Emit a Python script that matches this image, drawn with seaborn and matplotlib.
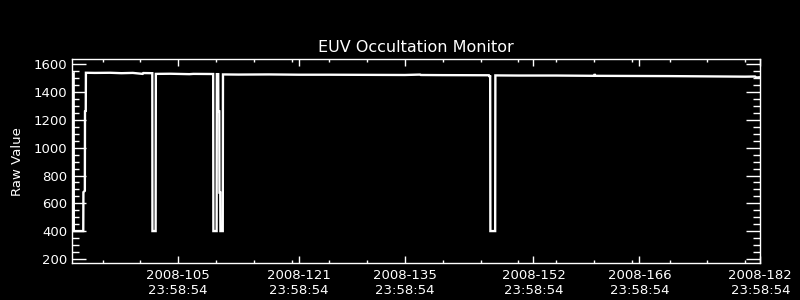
import matplotlib
matplotlib.use("Agg")
import matplotlib.pyplot as plt
import seaborn as sns
import numpy as np
from matplotlib.ticker import FixedLocator, MultipleLocator

# ---- data (day of year 2008, raw value) ----
days = [91.02, 91.18, 91.20, 92.45, 92.47, 92.66, 92.68, 92.78, 92.80, 94.0,
        96.0, 97.5, 99.0, 100.3, 100.4, 101.58, 101.60, 102.02, 102.05, 104.0,
        106.5, 107.0, 109.63, 109.66, 110.09, 110.12, 110.30, 110.32, 110.44, 110.46,
        110.57, 110.59, 110.90, 110.93, 113.0, 117.0, 121.0, 125.0, 130.0, 135.0,
        137.0, 137.1, 140.0, 146.10, 146.20, 146.27, 146.30, 146.93, 146.96, 150.0,
        155.0, 160.0, 160.1, 160.2, 165.0, 170.0, 175.0, 180.0, 181.3, 181.5, 181.99]
raw_value = [1532, 1535, 400, 400, 680, 690, 1262, 1265, 1540, 1539,
             1540, 1537, 1539, 1532, 1538, 1537, 400, 400, 1532, 1533,
             1530, 1532, 1531, 400, 400, 1530, 1530, 1262, 1262, 677,
             677, 400, 400, 1528, 1527, 1528, 1526, 1526, 1525, 1524,
             1527, 1524, 1523, 1522, 1510, 1521, 400, 400, 1521, 1520,
             1520, 1518, 1530, 1518, 1517, 1516, 1514, 1512, 1513, 1506, 1508]

major_days = [105, 121, 135, 152, 166, 182]
major_labels = ["2008-105\n23:58:54", "2008-121\n23:58:54", "2008-135\n23:58:54",
                "2008-152\n23:58:54", "2008-166\n23:58:54", "2008-182\n23:58:54"]

sns.set_style("dark", rc={"axes.facecolor": "black", "figure.facecolor": "black",
                          "axes.edgecolor": "white", "text.color": "white",
                          "xtick.color": "white", "ytick.color": "white",
                          "axes.labelcolor": "white"})
plt.rcParams["font.family"] = ["DejaVu Sans"]

fig = plt.figure(figsize=(8, 3), dpi=100, facecolor="black")
ax = fig.add_axes([72.3 / 800, 1 - 263 / 300, (760.3 - 72.3) / 800, (263 - 59.3) / 300])
ax.set_facecolor("black")

sns.lineplot(x=days, y=raw_value, estimator=None, sort=False, color="white",
             linewidth=1.7, ax=ax)
for ln in ax.get_lines():
    ln.set_solid_joinstyle("miter")

ax.set_xlim(91.0, 182.0)
ax.set_ylim(170, 1637)
ax.grid(False)

ax.set_xticks(major_days)
ax.set_xticklabels(major_labels)
ax.xaxis.set_minor_locator(FixedLocator(list(range(95, 182, 5))))
ax.yaxis.set_major_locator(MultipleLocator(200))
ax.yaxis.set_minor_locator(MultipleLocator(50))

ax.tick_params(axis="x", which="major", direction="in", length=5, width=1,
               top=True, bottom=True, labelsize=9.5, pad=4, colors="white")
ax.tick_params(axis="x", which="minor", direction="in", length=2.5, width=1,
               top=True, bottom=True, colors="white")
ax.tick_params(axis="y", which="major", direction="in", length=10, width=1,
               left=True, right=True, labelsize=9.5, pad=3.5, colors="white")
ax.tick_params(axis="y", which="minor", direction="in", length=5, width=1,
               left=True, right=True, colors="white")

for s in ax.spines.values():
    s.set_color("white")
    s.set_linewidth(1)

ax.set_title("EUV Occultation Monitor", color="white", fontsize=11.5, pad=5)
ax.set_ylabel("Raw Value", color="white", fontsize=9.5)
ax.yaxis.set_label_coords(-0.070, 0.5)
ax.set_xlabel("")

fig.savefig("out.png", dpi=100, facecolor="black")
